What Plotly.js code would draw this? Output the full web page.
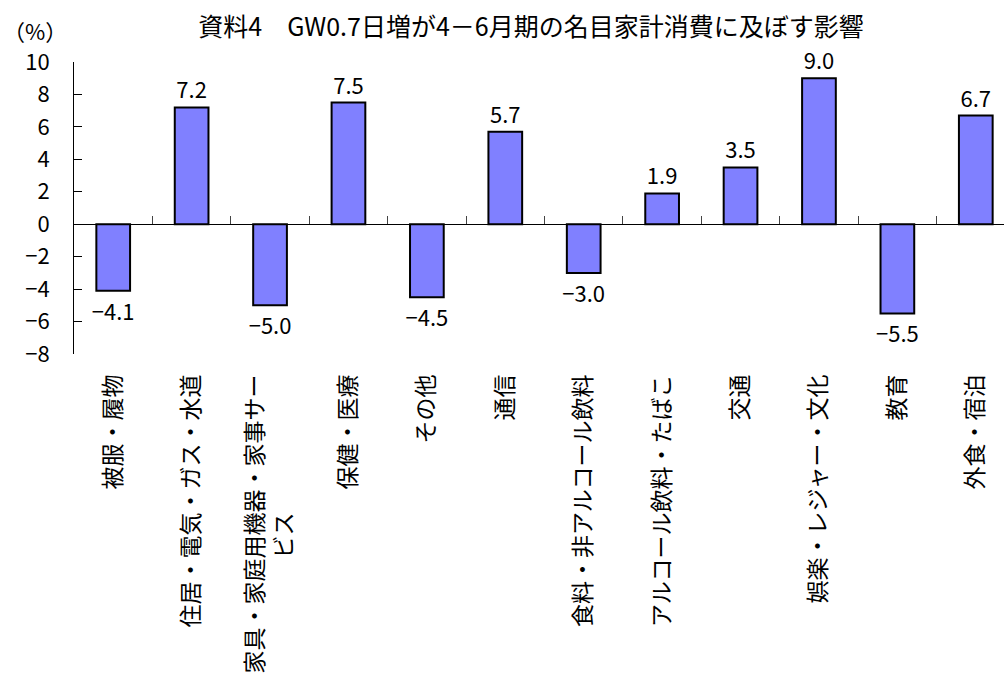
<!DOCTYPE html>
<html>
<head>
<meta charset="utf-8">
<script src="https://cdn.plot.ly/plotly-3.0.1.min.js"></script>
<style>
html, body { margin: 0; padding: 0; overflow: hidden; background: #fff; }
#chart { width: 1016px; height: 684px; }
</style>
</head>
<body>
<div id="chart"></div>
<script>
const categories = [
  "被服・履物",
  "住居・電気・ガス・水道",
  "家具・家庭用機器・家事サー<br>ビス\u3000\u3000\u3000\u3000\u3000\u3000",
  "保健・医療",
  "その他",
  "通信",
  "食料・非アルコール飲料",
  "アルコール飲料・たばこ",
  "交通",
  "娯楽・レジャー・文化",
  "教育",
  "外食・宿泊"
];
const values = [-4.1, 7.2, -5.0, 7.5, -4.5, 5.7, -3.0, 1.9, 3.5, 9.0, -5.5, 6.7];
const yTicks = [-8, -6, -4, -2, 0, 2, 4, 6, 8, 10];
const titleText = "資料4　GW0.7日増が4－6月期の名目家計消費に及ぼす影響";
const unitText = "（%）";

const FONT = "'Noto Sans CJK JP', 'Noto Sans', sans-serif";
const idx = categories.map((_, i) => i);
const boundaries = categories.slice(1).map((_, i) => i + 0.5);

const traces = [
  {
    type: "bar",
    x: idx,
    y: values,
    marker: { color: "#8080FF", line: { color: "#000000", width: 2 } },
    text: values.map(v => v.toFixed(1).replace("-", "\u2212")),
    textposition: "outside",
    constraintext: "none",
    cliponaxis: false,
    textfont: { family: FONT, size: 22, color: "#000" },
    hoverinfo: "skip",
    showlegend: false
  },
  {
    type: "scatter",
    x: idx,
    y: values.map(() => 0),
    xaxis: "x2",
    mode: "none",
    hoverinfo: "skip",
    showlegend: false
  }
];

const layout = {
  width: 1016,
  height: 684,
  margin: { l: 74, r: 1, t: 62, b: 330 },
  paper_bgcolor: "#ffffff",
  plot_bgcolor: "#ffffff",
  font: { family: FONT, size: 22, color: "#000" },
  bargap: 0.57,
  title: {
    text: titleText,
    font: { family: FONT, size: 25, color: "#000" },
    x: 531 / 1016,
    xanchor: "center",
    xref: "container",
    y: 1 - 27 / 684,
    yanchor: "middle",
    yref: "container"
  },
  xaxis: {
    range: [-0.5, categories.length - 0.5],
    tickmode: "array",
    tickvals: idx,
    ticktext: categories,
    tickangle: -90,
    ticks: "",
    showline: false,
    showgrid: false,
    zeroline: false,
    ticklabelstandoff: 15,
    tickfont: { family: FONT, size: 23, color: "#000" }
  },
  xaxis2: {
    overlaying: "x",
    matches: "x",
    anchor: "free",
    position: 8 / 18,
    side: "bottom",
    tickmode: "array",
    tickvals: boundaries,
    ticks: "inside",
    ticklen: 8,
    tickcolor: "#444",
    tickwidth: 1,
    showticklabels: false,
    showline: true,
    linecolor: "#000",
    linewidth: 1,
    showgrid: false,
    zeroline: false
  },
  yaxis: {
    range: [-8, 10],
    tickmode: "array",
    tickvals: yTicks,
    ticktext: yTicks.map(v => v < 0 ? "\u2212" + Math.abs(v) : String(v)),
    ticks: "inside",
    ticklen: 8,
    tickcolor: "#000",
    showline: true,
    linecolor: "#000",
    linewidth: 1,
    showgrid: false,
    zeroline: false,
    ticklabelstandoff: 19,
    tickfont: { family: FONT, size: 22, color: "#000" }
  },
  annotations: [
    {
      text: unitText,
      xref: "paper", yref: "paper",
      x: -73 / 941, y: (354 - 30) / 292,
      xanchor: "left", yanchor: "middle",
      showarrow: false,
      font: { family: FONT, size: 22, color: "#000" }
    }
  ]
};

Plotly.newPlot("chart", traces, layout, { displayModeBar: false, staticPlot: true });
</script>
</body>
</html>
